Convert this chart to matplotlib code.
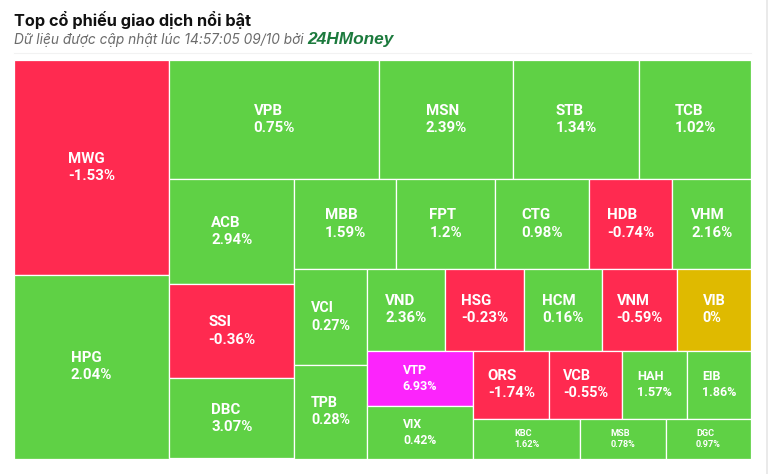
import matplotlib
matplotlib.use("Agg")
import matplotlib.pyplot as plt
from matplotlib.patches import Rectangle

# =========================
# DATA (trading value, % change)
# =========================
tickers = ["MWG", "HPG", "VPB", "MSN", "STB", "TCB", "ACB", "SSI", "DBC", "MBB",
           "FPT", "CTG", "HDB", "VHM", "VCI", "TPB", "VND", "HSG", "HCM", "VNM",
           "VIB", "VTP", "VIX", "ORS", "VCB", "HAH", "EIB", "KBC", "MSB", "DGC"]
trade_value = [33390, 28500, 24990, 15950, 14990, 13290, 13130, 11790, 10030, 9150,
               8940, 8410, 7520, 7080, 6950, 6770, 6420, 6410, 6400, 6130,
               6020, 5860, 5630, 5190, 4990, 4440, 4350, 4230, 3390, 3360]
change_pct = [-1.53, 2.04, 0.75, 2.39, 1.34, 1.02, 2.94, -0.36, 3.07, 1.59,
              1.2, 0.98, -0.74, 2.16, 0.27, 0.28, 2.36, -0.23, 0.16, -0.59,
              0, 6.93, 0.42, -1.74, -0.55, 1.57, 1.86, 1.62, 0.78, 0.97]

title = "Top cổ phiếu giao dịch nổi bật"
subtitle = "Dữ liệu được cập nhật lúc 14:57:05 09/10 bởi"
brand = "24HMoney"

# =========================
# COLOURS
# =========================
UP = "#5fd145"
DOWN = "#ff2a50"
REF = "#dfba00"
CEIL = "#fc24fc"


def tile_colour(v):
    if v >= 6.9:
        return CEIL
    if v > 0:
        return UP
    if v < 0:
        return DOWN
    return REF


# =========================
# SQUARIFIED LAYOUT (alternating direction)
# =========================
def aspect(a, b):
    return max(a / b, b / a)


def place(group, x0, y0, w, h, vertical):
    s = sum(group)
    out = []
    if vertical:
        gw = s / h
        yy = y0
        for a in group:
            out.append((x0, yy, gw, a / gw))
            yy += a / gw
        return out, (x0 + gw, y0, w - gw, h)
    gh = s / w
    xx = x0
    for a in group:
        out.append((xx, y0, a / gh, gh))
        xx += a / gh
    return out, (x0, y0 + gh, w, h - gh)


def squarify(values, w, h):
    total = sum(values)
    areas = [v / total * w * h for v in values]
    rects = []
    box = (0.0, 0.0, w, h)
    vertical = True
    group = []
    for a in areas:
        if group:
            prev = group[-1]
            s_old = sum(group)
            s_new = s_old + a
            if vertical:
                ow, nw = s_old / box[3], s_new / box[3]
                r_old, r_new = aspect(ow, prev / ow), aspect(nw, prev / nw)
            else:
                oh, nh = s_old / box[2], s_new / box[2]
                r_old, r_new = aspect(prev / oh, oh), aspect(prev / nh, nh)
            if r_new > r_old:
                out, box = place(group, *box, vertical)
                rects += out
                group = []
                vertical = not vertical
        group.append(a)
    out, box = place(group, *box, vertical)
    rects += out
    return rects


# =========================
# FIGURE
# =========================
W, H = 772, 474
fig = plt.figure(figsize=(W / 100, H / 100), dpi=100)
fig.patch.set_facecolor("white")

left, top, right, bottom = 14, 60, 751, 458.5
ax = fig.add_axes([left / W, 1 - bottom / H, (right - left) / W, (bottom - top) / H])
tw, th = right - left, bottom - top
ax.set_xlim(0, tw)
ax.set_ylim(th, 0)
ax.axis("off")

rects = squarify(trade_value, tw, th)
for (x, y, w, h), name, v in zip(rects, tickers, change_pct):
    ax.add_patch(Rectangle((x, y), w, h, facecolor=tile_colour(v),
                           edgecolor="white", linewidth=0.9))
    # label shrinks with the tile
    fs_px = min(15, 0.197 * w, 0.23 * h)
    ax.text(x + w / 2, y + h / 2, f"{name}\n{v:g}%", ha="center", va="center",
            multialignment="left", color="white", fontweight="bold",
            fontsize=fs_px * 0.72, family="Roboto", linespacing=1.3)

# header
fig.text(14 / W, 1 - 26 / H, title, fontsize=16.3 * 0.72, fontweight="bold",
         family="Inter", color="#111111", va="baseline")
sub = fig.text(14 / W, 1 - 44 / H, subtitle + " ", fontsize=13.7 * 0.72,
               style="italic", family="Inter", color="#6b6b6b", va="baseline")
fig.canvas.draw()
bb = sub.get_window_extent(fig.canvas.get_renderer())
fig.text(bb.x1 / W, 1 - 44 / H, brand, fontsize=17.2 * 0.72, fontweight="bold",
         style="italic", family="Liberation Sans", color="#1c7a3d", va="baseline")

# faint page borders
fig.add_artist(plt.Line2D([14 / W, 751 / W], [1 - 53 / H, 1 - 53 / H],
                          color="#f2f2f2", linewidth=0.8))
fig.add_artist(plt.Line2D([767 / W, 767 / W], [0, 1], color="#e6e6e6", linewidth=1.2))

fig.savefig("out.png", dpi=100)
